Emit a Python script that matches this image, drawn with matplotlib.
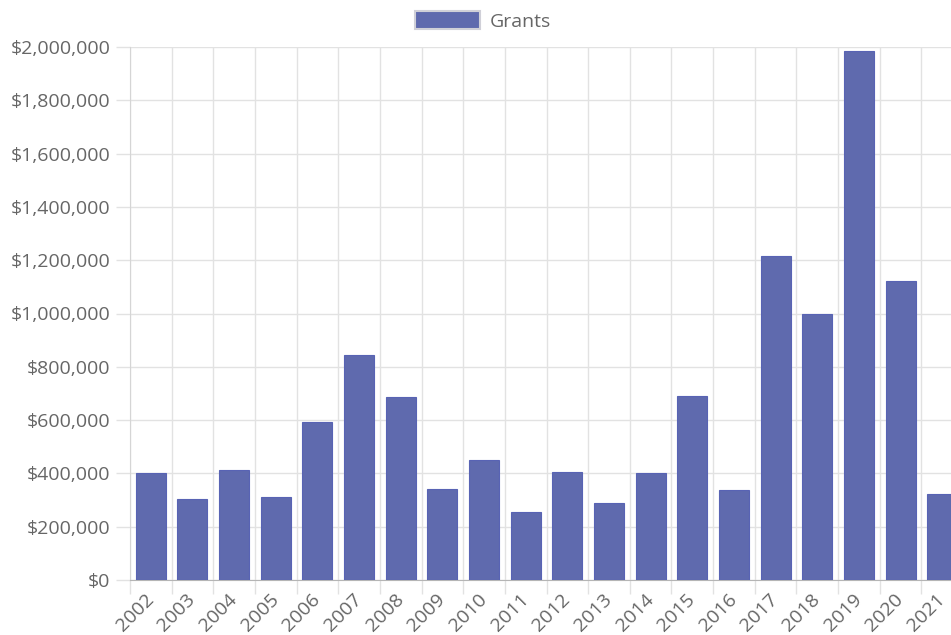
import numpy as np
import matplotlib
matplotlib.use("Agg")
from matplotlib import pyplot as plt
from matplotlib.ticker import FuncFormatter, MultipleLocator
from matplotlib.patches import Patch

##Data
years = ['2002', '2003', '2004', '2005', '2006', '2007', '2008', '2009', '2010', '2011',
         '2012', '2013', '2014', '2015', '2016', '2017', '2018', '2019', '2020', '2021']
grants = [400000, 305000, 413000, 312000, 593000, 845000, 687000, 342000, 451000, 255000,
          405000, 290000, 402000, 690000, 338000, 1216000, 998000, 1985000, 1122000, 323000]

plt.rcParams['font.family'] = ['Open Sans', 'DejaVu Sans']
text_color = '#666666'
grid_color = '#e2e2e2'

##Plot##
fig = plt.figure(figsize=(9.51, 6.35), dpi=100)
ax = fig.add_axes([130 / 951, 55 / 635, 833 / 951, 533 / 635])

x = np.arange(len(years))
ax.bar(x, grants, width=0.72, color='#5f6aae', edgecolor='#5863b4', linewidth=0.8, zorder=3)

ax.set_xlim(-0.5, len(years) - 0.5)
ax.set_ylim(0, 2000000)

ax.yaxis.set_major_locator(MultipleLocator(200000))
ax.yaxis.set_major_formatter(FuncFormatter(lambda v, p: '${:,.0f}'.format(v)))

ax.set_xticks(x)
ax.set_xticklabels(years, rotation=45, ha='right', va='center', rotation_mode='anchor')
ax.set_xticks(np.arange(len(years)) - 0.5, minor=True)

ax.tick_params(axis='x', which='major', length=0, pad=12, labelsize=14, labelcolor=text_color)
ax.tick_params(axis='x', which='minor', length=10, width=1, color=grid_color)
ax.tick_params(axis='y', length=10, width=1, color=grid_color, pad=4, labelsize=14, labelcolor=text_color)

ax.grid(axis='y', color=grid_color, linewidth=1, zorder=0)
ax.grid(axis='x', which='minor', color=grid_color, linewidth=1, zorder=0)
ax.set_axisbelow(True)

for s in ['top', 'right']:
    ax.spines[s].set_visible(False)
ax.spines['left'].set_color('#d5d5d5')
ax.spines['bottom'].set_color('#b5b5b5')

handle = Patch(facecolor='#5f6aae', edgecolor='#d0d0d8', linewidth=1.5)
fig.legend([handle], ['Grants'], loc='center', bbox_to_anchor=(483 / 951, 1 - 21 / 635),
           frameon=False, fontsize=14, labelcolor=text_color,
           handlelength=3.3, handleheight=1.0, handletextpad=0.5)

plt.savefig('out.png', dpi=100)
